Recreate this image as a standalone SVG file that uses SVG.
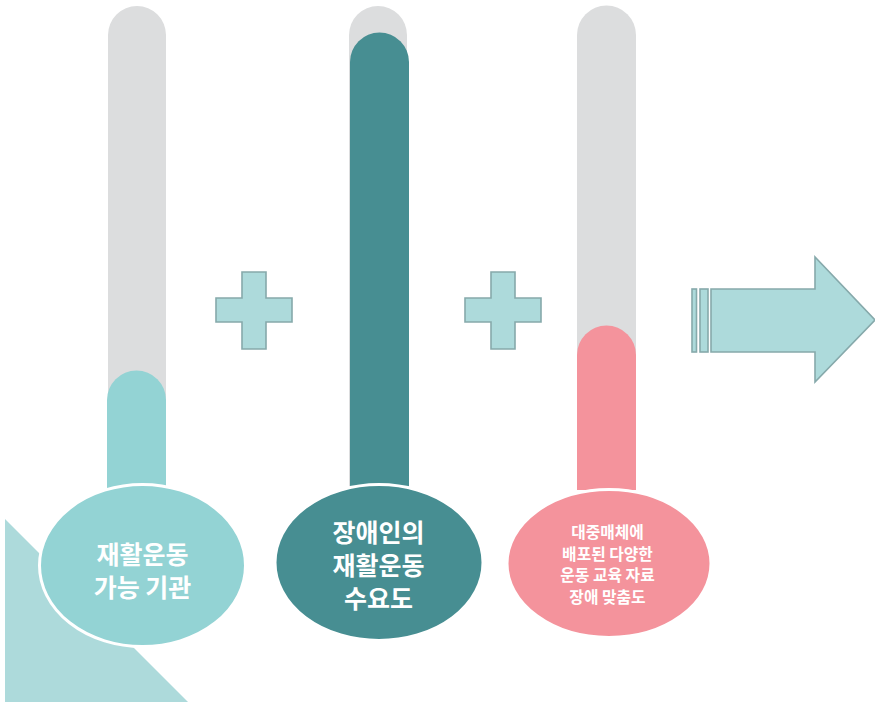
<svg xmlns="http://www.w3.org/2000/svg" width="875" height="702" viewBox="0 0 875 702">
<style>
.track{fill:#DCDDDE}
.sym{fill:#ADDADB;stroke:#86A9AB;stroke-width:1.6}
.bub{stroke:#FFFFFF;stroke-width:3}
.lbl{font-family:"Noto Sans CJK KR","Noto Sans",sans-serif;font-weight:bold;fill:#FFFFFF;text-anchor:middle}
</style>
<rect x="0" y="0" width="875" height="702" fill="#FFFFFF"/>
<polygon points="5,519 5,702 188,702" fill="#ADDADB"/>
<g id="tube1">
<path class="track" d="M108,490 V35 A29,29 0 0 1 166,35 V490 Z"/>
<path d="M107,490 V400 A29.5,29.5 0 0 1 166,400 V490 Z" fill="#93D3D4"/>
</g>
<g id="tube2">
<path class="track" d="M349,490 V35 A29,29 0 0 1 407,35 V490 Z"/>
<path d="M350,490 V62 A29.5,29.5 0 0 1 409,62 V490 Z" fill="#478E92"/>
</g>
<g id="tube3">
<path class="track" d="M577,490 V35 A29.5,29.5 0 0 1 636,35 V490 Z"/>
<path d="M577,490 V355 A29.5,29.5 0 0 1 636,355 V490 Z" fill="#F4939C"/>
</g>
<g id="plus1">
<polygon class="sym" points="242,272 266,272 266,298 292,298 292,322 266,322 266,349 242,349 242,322 216,322 216,298 242,298"/>
</g>
<g id="plus2">
<polygon class="sym" points="491,272 515,272 515,298 541,298 541,322 515,322 515,349 491,349 491,322 465,322 465,298 491,298"/>
</g>
<g id="arrow">
<rect class="sym" x="692" y="289" width="4.5" height="63"/>
<rect class="sym" x="700" y="289" width="8" height="63"/>
<polygon class="sym" points="711,289 815,289 815,257 875,320 815,382 815,352 711,352"/>
</g>
<g id="node1">
<ellipse class="bub" cx="142.5" cy="565.5" rx="103" ry="81" fill="#93D3D4"/>
<text class="lbl" font-size="25" x="142.5" y="563.5">재활운동</text>
<text class="lbl" font-size="25" x="142.5" y="597">가능 기관</text>
</g>
<g id="node2">
<ellipse class="bub" cx="379" cy="562.5" rx="104" ry="78" fill="#478E92"/>
<text class="lbl" font-size="25" x="378.5" y="541.5">장애인의</text>
<text class="lbl" font-size="25" x="378.5" y="574.5">재활운동</text>
<text class="lbl" font-size="25" x="378.5" y="607.5">수요도</text>
</g>
<g id="node3">
<ellipse class="bub" cx="609" cy="563.5" rx="102" ry="74" fill="#F4939C"/>
<text class="lbl" font-size="15.8" x="607.5" y="538">대중매체에</text>
<text class="lbl" font-size="15.8" x="607.5" y="559.5">배포된 다양한</text>
<text class="lbl" font-size="15.8" x="607.5" y="581">운동 교육 자료</text>
<text class="lbl" font-size="15.8" x="607.5" y="602.5">장애 맞춤도</text>
</g>
<g id="connectors"></g>
</svg>
